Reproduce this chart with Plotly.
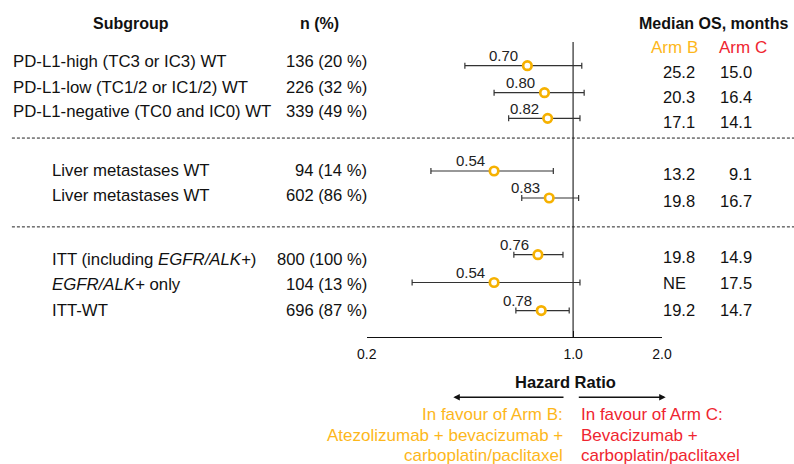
import numpy as np
import plotly.graph_objects as go

# ---------------- data ----------------
subgroups = [
    "PD-L1-high (TC3 or IC3) WT",
    "PD-L1-low (TC1/2 or IC1/2) WT",
    "PD-L1-negative (TC0 and IC0) WT",
    "Liver metastases WT",
    "Liver metastases WT",
    "ITT (including <i>EGFR/ALK+</i>)",
    "<i>EGFR/ALK+</i> only",
    "ITT-WT",
]
n_pct = ["136 (20 %)", "226 (32 %)", "339 (49 %)", "94 (14 %)", "602 (86 %)",
         "800 (100 %)", "104 (13 %)", "696 (87 %)"]
hr = [0.70, 0.80, 0.82, 0.54, 0.83, 0.76, 0.54, 0.78]
ci_low = [0.43, 0.54, 0.605, 0.33, 0.67, 0.63, 0.285, 0.64]
ci_high = [1.07, 1.09, 1.055, 0.857, 1.044, 0.924, 1.055, 0.97]
os_arm_b = ["25.2", "20.3", "17.1", "13.2", "19.8", "19.8", "NE", "19.2"]
os_arm_c = ["15.0", "16.4", "14.1", "9.1", "16.7", "14.9", "17.5", "14.7"]
tick_vals = [0.2, 1.0, 2.0]
tick_text = ["0.2", "1.0", "2.0"]

# ---------------- layout constants ----------------
W, H = 794, 464
ORANGE = "#FDB71B"
MARK = "#F6B100"
RED = "#EF2530"
FONT = "Liberation Sans, Arial, Helvetica, sans-serif"

point_rows = [0, 1.0, 1.95, 3.9, 4.9, 7.0, 8.03, 9.07]
label_rows = [-0.14, 0.79, 1.71, 3.9, 4.81, 7.16, 8.12, 9.07]
os_rows = [0.22, 1.16, 2.09, 4.01, 5.0, 7.09, 8.05, 9.05]
label_indent = [0.014, 0.014, 0.014, 0.063, 0.063, 0.063, 0.063, 0.063]

Y_TOP, Y_BOT = -2.433, 14.752   # row units at the top / bottom of the figure

fig = go.Figure()

# reference line at HR = 1
fig.add_trace(go.Scatter(
    x=[1, 1], y=[-0.88, 10.05], mode="lines",
    line=dict(color="#555555", width=1.5), hoverinfo="skip", showlegend=False))

# forest points with CIs
fig.add_trace(go.Scatter(
    x=hr, y=point_rows, mode="markers",
    marker=dict(symbol="circle", size=8.5, color="white",
                line=dict(color=MARK, width=2.7)),
    error_x=dict(type="data", symmetric=False,
                 array=[h - v for v, h in zip(hr, ci_high)],
                 arrayminus=[v - l for v, l in zip(hr, ci_low)],
                 color="#333333", thickness=1.2, width=3),
    showlegend=False, hoverinfo="skip"))

ann = []
# HR labels
for v, r in zip(hr, point_rows):
    ann.append(dict(x=np.log10(v), y=r, xref="x", yref="y", text=f"{v:.2f}",
                    showarrow=False, xanchor="right", yanchor="middle",
                    xshift=-7, yshift=10, font=dict(size=15, color="#222")))

# table columns
for i in range(len(subgroups)):
    ann.append(dict(x=label_indent[i], y=label_rows[i], xref="paper", yref="y",
                    text=subgroups[i], showarrow=False, xanchor="left",
                    yanchor="middle", font=dict(size=16.8, color="#111")))
    ann.append(dict(x=0.4647, y=label_rows[i], xref="paper", yref="y",
                    text=n_pct[i], showarrow=False, xanchor="right",
                    yanchor="middle", font=dict(size=16.6, color="#111")))
    ann.append(dict(x=0.8325, y=os_rows[i], xref="paper", yref="y",
                    text=os_arm_b[i], showarrow=False, xanchor="left",
                    yanchor="middle", font=dict(size=16.5, color="#111")))
    ann.append(dict(x=0.9496, y=os_rows[i], xref="paper", yref="y",
                    text=os_arm_c[i], showarrow=False, xanchor="right",
                    yanchor="middle", font=dict(size=16.5, color="#111")))

# headers
hdr_row = -1.58
ann += [
    dict(x=0.165, y=hdr_row, xref="paper", yref="y", text="<b>Subgroup</b>",
         showarrow=False, xanchor="center", font=dict(size=16, color="#111")),
    dict(x=0.4018, y=hdr_row, xref="paper", yref="y", text="<b>n (%)</b>",
         showarrow=False, xanchor="center", font=dict(size=16, color="#111")),
    dict(x=0.898, y=hdr_row, xref="paper", yref="y", text="<b>Median OS, months</b>",
         showarrow=False, xanchor="center", font=dict(size=16, color="#111")),
    dict(x=0.8501, y=-0.69, xref="paper", yref="y", text="Arm B",
         showarrow=False, xanchor="center", font=dict(size=17, color=ORANGE)),
    dict(x=0.9358, y=-0.69, xref="paper", yref="y", text="Arm C",
         showarrow=False, xanchor="center", font=dict(size=17, color=RED)),
    dict(x=0.7122, y=11.73, xref="paper", yref="y", text="<b>Hazard Ratio</b>",
         showarrow=False, xanchor="center", font=dict(size=16.5, color="#111")),
]

# favour texts
left_lines = ["In favour of Arm B:", "Atezolizumab + bevacizumab +", "carboplatin/paclitaxel"]
right_lines = ["In favour of Arm C:", "Bevacizumab +", "carboplatin/paclitaxel"]
fav_rows = [12.9, 13.71, 14.42]
for t, r in zip(left_lines, fav_rows):
    ann.append(dict(x=0.7116, y=r, xref="paper", yref="y", text=t, showarrow=False,
                    xanchor="right", yanchor="middle", font=dict(size=17, color=ORANGE)))
for t, r in zip(right_lines, fav_rows):
    ann.append(dict(x=0.7288, y=r, xref="paper", yref="y", text=t, showarrow=False,
                    xanchor="left", yanchor="middle", font=dict(size=17, color=RED)))

# arrows
ann.append(dict(x=453.3 / W, y=12.28, xref="paper", yref="y", ax=111.7, ay=0,
                showarrow=True, arrowhead=2, arrowsize=1, arrowwidth=1.3,
                arrowcolor="#111", text=""))
ann.append(dict(x=665.7 / W, y=12.28, xref="paper", yref="y", ax=-88.4, ay=0,
                showarrow=True, arrowhead=2, arrowsize=1, arrowwidth=1.3,
                arrowcolor="#111", text=""))

shapes = [dict(type="line", xref="paper", yref="y", x0=0.015, x1=1.0, y0=r, y1=r,
               line=dict(color="#222", width=1, dash="3px,2px")) for r in (2.68, 5.97)]

fig.update_layout(
    width=W, height=H, autosize=False,
    margin=dict(l=0, r=0, t=0, b=0, pad=0, autoexpand=False),
    paper_bgcolor="white", plot_bgcolor="white",
    font=dict(family=FONT, color="#111"),
    annotations=ann, shapes=shapes, showlegend=False,
    xaxis=dict(type="log", range=[np.log10(0.2), np.log10(2.0)],
               domain=[366.7 / W, 662 / W], anchor="free",
               position=1 - 336.7 / H, showgrid=False, zeroline=False,
               showline=True, linecolor="#111", linewidth=1.2,
               ticks="inside", ticklen=6, tickwidth=1.2, tickcolor="#111",
               tickvals=tick_vals, ticktext=tick_text, automargin=False,
               tickfont=dict(size=14, color="#111"), ticklabelstandoff=4),
    yaxis=dict(range=[Y_BOT, Y_TOP], domain=[0, 1], visible=False,
               showgrid=False, zeroline=False, automargin=False),
)

fig.write_html(
    "out.html",
    config={"responsive": False, "displayModeBar": False},
    post_script="document.body.style.margin='0px';document.body.style.overflow='hidden';",
)
